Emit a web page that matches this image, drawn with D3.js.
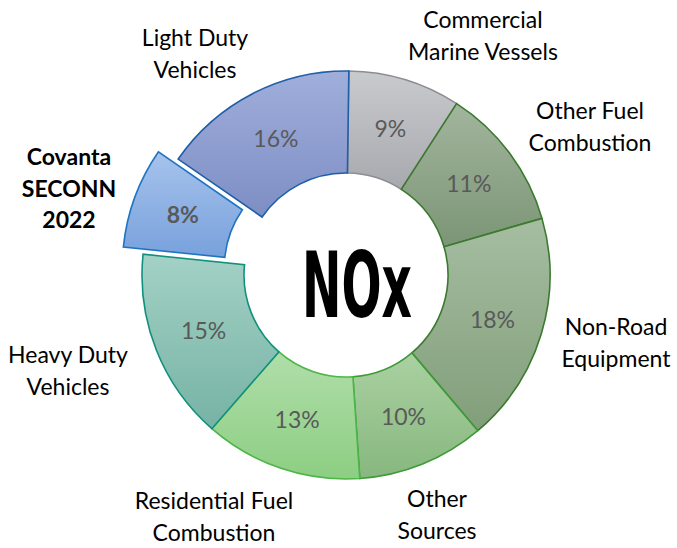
<!DOCTYPE html>
<html>
<head>
<meta charset="utf-8">
<script src="https://cdn.jsdelivr.net/npm/d3@7"></script>
<style>
  html, body { margin: 0; padding: 0; background: #ffffff; }
  svg { display: block; }
</style>
</head>
<body>
<svg id="chart" width="677" height="548"></svg>
<script>
// ---- data ----
const categories = [
  "Commercial Marine Vessels",
  "Other Fuel Combustion",
  "Non-Road Equipment",
  "Other Sources",
  "Residential Fuel Combustion",
  "Heavy Duty Vehicles",
  "Covanta SECONN 2022",
  "Light Duty Vehicles"
];
const shares = [8.9, 11.4, 18.3, 10.1, 12.5, 15.2, 8.0, 15.6];
const labelLines = [
  ["Commercial", "Marine Vessels"],
  ["Other Fuel", "Combustion"],
  ["Non-Road", "Equipment"],
  ["Other", "Sources"],
  ["Residential Fuel", "Combustion"],
  ["Heavy Duty", "Vehicles"],
  ["Covanta", "SECONN", "2022"],
  ["Light Duty", "Vehicles"]
];
const highlighted = "Covanta SECONN 2022";
const centerTitle = "NOx";

// ---- styles / layout (kept separate from data) ----
const fillTop    = ["#c9cace", "#a2b59d", "#a6bda1", "#aad1a2", "#b0dea9", "#a3d1c5", "#a6c3ec", "#a0aedb"];
const fillBottom = ["#a8a9ae", "#7c9576", "#819e7a", "#87b77e", "#8dce83", "#76b3a5", "#78a1dc", "#7d8ec4"];
const strokes    = ["#8c8d91", "#3b7a2e", "#3b7a2e", "#3f9a38", "#4cb548", "#12907e", "#1f74c2", "#1f5ea8"];
// external label anchor points (text centre x, first baseline y)
const labelAnchor = [[483, 28], [590, 119], [616, 335], [437, 507], [214, 509], [68, 363], [69, 165], [195, 46]];

const W = 677, H = 548;
const cx = 346, cy = 275;
const rOuter = 204, rInner = 102;
const explode = 21;
const startOffset = 0.014;
const fontFamily = "Lato, 'Noto Sans', sans-serif";

const svg = d3.select("#chart");
const defs = svg.append("defs");

const pie = d3.pie().sort(null).value(d => d.value)
  .startAngle(startOffset).endAngle(startOffset + 2 * Math.PI);
const data = categories.map((c, i) => ({ name: c, value: shares[i], i }));
const arcs = pie(data);

const arc = d3.arc().innerRadius(rInner).outerRadius(rOuter);

arcs.forEach((a, i) => {
  const g = defs.append("linearGradient")
    .attr("id", "grad" + i)
    .attr("x1", 0).attr("y1", 0).attr("x2", 0).attr("y2", 1);
  g.append("stop").attr("offset", "0%").attr("stop-color", fillTop[i]);
  g.append("stop").attr("offset", "100%").attr("stop-color", fillBottom[i]);
});

function offsetOf(a) {
  if (a.data.name !== highlighted) return [0, 0];
  const mid = (a.startAngle + a.endAngle) / 2;
  return [explode * Math.sin(mid), -explode * Math.cos(mid)];
}

const chart = svg.append("g").attr("transform", `translate(${cx},${cy})`);

const slice = chart.selectAll("g.slice").data(arcs).join("g")
  .attr("class", "slice")
  .attr("transform", d => { const o = offsetOf(d); return `translate(${o[0]},${o[1]})`; });

slice.append("path")
  .attr("d", arc)
  .attr("fill", (d, i) => `url(#grad${i})`)
  .attr("stroke", (d, i) => strokes[i])
  .attr("stroke-width", 1.6)
  .attr("stroke-linejoin", "miter");

const fmt = v => Math.round(v) + "%";

slice.append("text")
  .attr("x", d => arc.centroid(d)[0])
  .attr("y", d => arc.centroid(d)[1])
  .attr("dy", "0.36em")
  .attr("text-anchor", "middle")
  .attr("font-family", fontFamily)
  .attr("font-size", 23)
  .attr("font-weight", d => d.data.name === highlighted ? 700 : 400)
  .attr("fill", "#595959")
  .text(d => fmt(d.data.value));

// category labels
const lab = svg.append("g").selectAll("text").data(arcs).join("text")
  .attr("text-anchor", "middle")
  .attr("font-family", fontFamily)
  .attr("font-size", 23)
  .attr("font-weight", d => d.data.name === highlighted ? 700 : 400)
  .attr("fill", "#000000");

lab.each(function (d, i) {
  const t = d3.select(this);
  labelLines[i].forEach((ln, k) => {
    t.append("tspan")
      .attr("x", labelAnchor[i][0])
      .attr("y", labelAnchor[i][1] + k * 31.7)
      .text(ln);
  });
});

// centre title: horizontally condensed by a transform so its box stays inside the hole
const titleWidth = 110;
const titleG = svg.append("g");
const title = titleG.append("text")
  .attr("x", 0)
  .attr("y", 0)
  .attr("font-family", "'DejaVu Sans', sans-serif")
  .attr("font-weight", 700)
  .attr("font-size", 90)
  .attr("fill", "#000000")
  .text(centerTitle);
const natural = title.node().getComputedTextLength() || 200;
titleG.attr("transform", `translate(302,317) scale(${titleWidth / natural},1)`);
</script>
</body>
</html>
